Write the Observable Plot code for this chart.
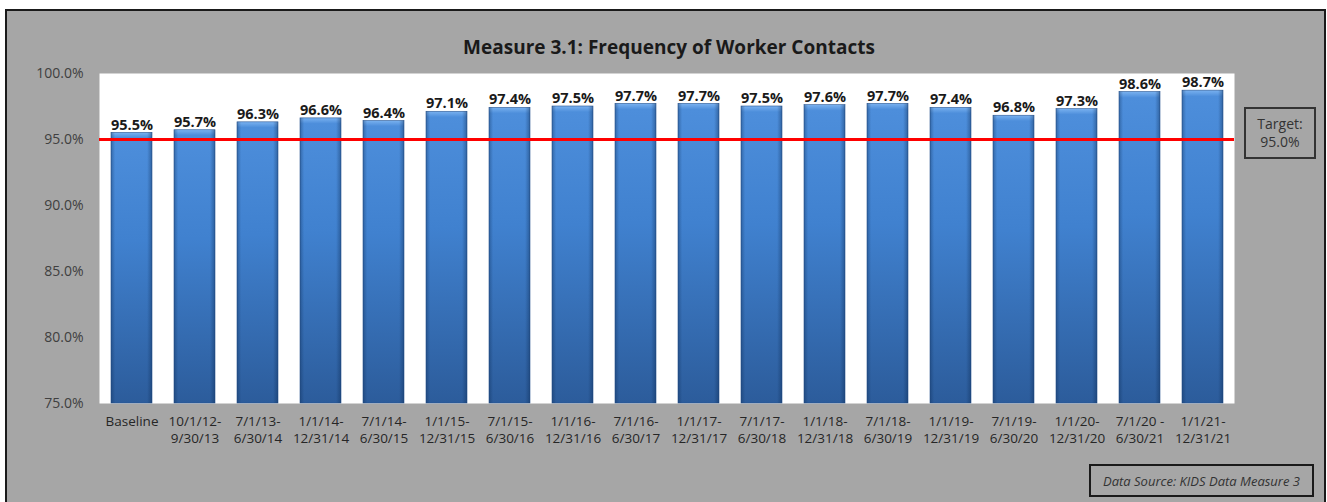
<!DOCTYPE html>
<html>
<head>
<meta charset="utf-8">
<script src="https://cdn.jsdelivr.net/npm/d3@7"></script>
<script src="https://cdn.jsdelivr.net/npm/@observablehq/plot@0.6"></script>
<style>
  html, body { margin: 0; padding: 0; background: #ffffff; }
  body { width: 1327px; height: 502px; position: relative; overflow: hidden; font-family: "Open Sans", sans-serif; }
  #frame { position: absolute; left: 5px; top: 9px; width: 1317px; height: 492px; border: 2px solid #1a1a1a; background: #a6a6a6; }
  #title { position: absolute; left: 0; top: 24px; width: 1324px; text-align: center; font-weight: bold; font-size: 19px; line-height: 24px; color: #1a1a1a; }
  #chart { position: absolute; left: 0; top: 0; }
  #target { position: absolute; left: 1237px; top: 96px; width: 68px; height: 48px; border: 2px solid #333; box-sizing: content-box; display: flex; flex-direction: column; align-items: center; justify-content: center; font-size: 14px; line-height: 18px; color: #333; }
  #source { position: absolute; left: 1082px; top: 453px; width: 221px; height: 29px; border: 2px solid #1a1a1a; display: flex; align-items: center; justify-content: center; font-size: 13px; font-style: italic; color: #333; white-space: nowrap; }
</style>
</head>
<body>
<div id="frame">
  <div id="title">Measure 3.1: Frequency of Worker Contacts</div>
  <div id="chart"></div>
  <div id="target"><div>Target:</div><div>95.0%</div></div>
  <div id="source">Data Source: KIDS Data Measure 3</div>
</div>
<script>
const categories = [
  "Baseline",
  "10/1/12-\n9/30/13",
  "7/1/13-\n6/30/14",
  "1/1/14-\n12/31/14",
  "7/1/14-\n6/30/15",
  "1/1/15-\n12/31/15",
  "7/1/15-\n6/30/16",
  "1/1/16-\n12/31/16",
  "7/1/16-\n6/30/17",
  "1/1/17-\n12/31/17",
  "7/1/17-\n6/30/18",
  "1/1/18-\n12/31/18",
  "7/1/18-\n6/30/19",
  "1/1/19-\n12/31/19",
  "7/1/19-\n6/30/20",
  "1/1/20-\n12/31/20",
  "7/1/20 -\n6/30/21",
  "1/1/21-\n12/31/21"
];
const values = [95.5, 95.7, 96.3, 96.6, 96.4, 97.1, 97.4, 97.5, 97.7, 97.7, 97.5, 97.6, 97.7, 97.4, 96.8, 97.3, 98.6, 98.7];
const target = 95;
const yTicks = [75, 80, 85, 90, 95, 100];
const yMin = 75, yMax = 100;

const data = categories.map((c, i) => ({category: c, value: values[i]}));

const hasAxisMarks = typeof Plot.axisX === "function";
const axisMarks = hasAxisMarks ? [
  Plot.axisX({tickSize: 0, tickPadding: 11, lineHeight: 1.25, fontSize: 13.5, fill: "#262626", label: null}),
  Plot.axisY({ticks: yTicks, tickFormat: d => d.toFixed(1) + "%", tickSize: 0, tickPadding: 16, fontSize: 14, fill: "#404040", label: null})
] : [];

const chart = Plot.plot({
  width: 1316,
  height: 480,
  marginLeft: 92,
  marginRight: 89,
  marginTop: 62,
  marginBottom: 88,
  style: {background: "transparent", fontFamily: "'Open Sans', sans-serif", fontSize: "14px", color: "#404040", overflow: "visible"},
  x: {domain: categories, paddingInner: 0.35, paddingOuter: 0.175, label: null, tickSize: 0, tickPadding: 11, axis: hasAxisMarks ? null : "bottom"},
  y: {domain: [yMin, yMax], ticks: yTicks, tickFormat: d => d.toFixed(1) + "%", label: null, tickSize: 0, tickPadding: 16, axis: hasAxisMarks ? null : "left"},
  marks: [
    Plot.frame({fill: "white", stroke: null}),
    ...axisMarks,
    Plot.barY(data, {x: "category", y1: yMin, y2: "value", fill: "url(#barGrad)", stroke: "#2a5590", strokeWidth: 0.6}),
    Plot.barY(data, {x: "category", y1: yMin, y2: "value", fill: "url(#barShade)"}),
    Plot.ruleY([target], {stroke: "#ff0000", strokeWidth: 3}),
    Plot.text(data, {x: "category", y: "value", text: d => d.value.toFixed(1) + "%", dy: -8, fontWeight: "bold", fontSize: 14.5, fill: "#1a1a1a"})
  ]
});

const ns = "http://www.w3.org/2000/svg";
const defs = document.createElementNS(ns, "defs");
defs.innerHTML = `
  <linearGradient id="barGrad" x1="0" y1="0" x2="0" y2="1">
    <stop offset="0" stop-color="#7ab2f0"/>
    <stop offset="0.02" stop-color="#4d8edb"/>
    <stop offset="0.4" stop-color="#4081cf"/>
    <stop offset="1" stop-color="#2c5c9b"/>
  </linearGradient>
  <linearGradient id="barShade" x1="0" y1="0" x2="1" y2="0">
    <stop offset="0" stop-color="#0a2850" stop-opacity="0.35"/>
    <stop offset="0.1" stop-color="#0a2850" stop-opacity="0"/>
    <stop offset="0.88" stop-color="#0a2850" stop-opacity="0"/>
    <stop offset="1" stop-color="#0a2850" stop-opacity="0.4"/>
  </linearGradient>`;
chart.insertBefore(defs, chart.firstChild);
document.getElementById("chart").appendChild(chart);
</script>
</body>
</html>
